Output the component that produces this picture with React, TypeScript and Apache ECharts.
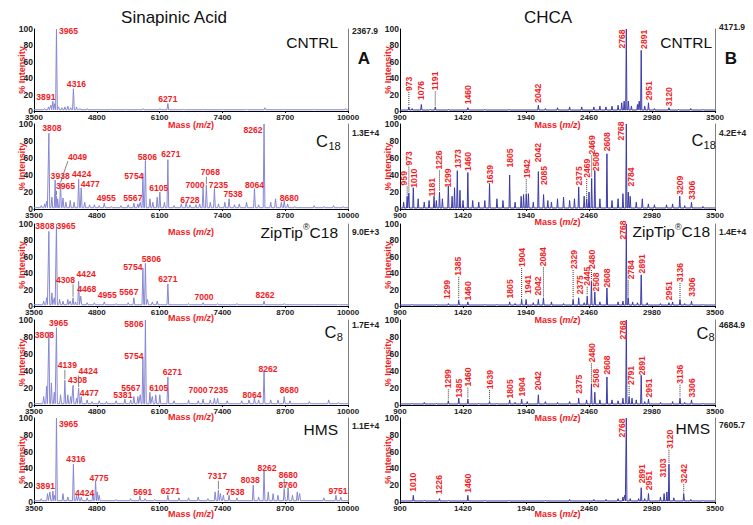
import React, { useEffect, useRef } from 'react';
import * as echarts from 'echarts';

type Peak = [string, number, number]; // label text, m/z, % intensity
type Lay = [number, number, number]; // label dx, dy (px from peak top), leader flag
type Pt = [number, number];

const saTicks = [3500, 4800, 6100, 7400, 8700, 10000];
const chcaTicks = [900, 1420, 1940, 2460, 2980, 3500];
const saScales = ['2367.9', '1.3E+4', '9.0E+3', '1.7E+4', '1.1E+4'];
const chcaScales = ['4171.9', '4.2E+4', '1.4E+4', '4684.9', '7605.7'];

// ---------- Sinapinic acid ----------
const saCntrlPeaks: Peak[] = [['3891', 3891, 12], ['3965', 3965, 100], ['4316', 4316, 27], ['6271', 6271, 9]];
const saCntrlMinor: Pt[] = [[3720, 3], [3800, 5], [3850, 7], [3930, 9], [4010, 5], [4080, 4], [4140, 5], [4200, 6], [4260, 4], [4380, 5], [4450, 3], [4600, 3], [4800, 2], [5100, 2], [5400, 2], [5760, 3], [6105, 3], [6600, 2], [7000, 2], [7400, 2], [7900, 2], [8280, 4], [8680, 2], [9300, 2], [9950, 3]];

const saC18Peaks: Peak[] = [['3808', 3808, 89], ['3938', 3938, 34], ['3965', 3965, 15], ['4049', 4049, 30], ['4424', 4424, 35], ['4477', 4477, 25], ['4955', 4955, 7], ['5567', 5567, 7], ['5754', 5754, 42], ['5806', 5806, 57], ['6105', 6105, 20], ['6271', 6271, 58], ['6728', 6728, 5], ['7000', 7000, 25], ['7068', 7068, 28], ['7235', 7235, 24], ['7538', 7538, 12], ['8064', 8064, 24], ['8262', 8262, 100], ['8680', 8680, 10]];
const saC18Minor: Pt[] = [[3650, 4], [3720, 6], [3760, 9], [3870, 14], [3990, 12], [4100, 13], [4160, 8], [4250, 10], [4330, 8], [4550, 8], [4650, 5], [4750, 5], [4850, 4], [5100, 3], [5300, 4], [5450, 5], [5650, 6], [5700, 8], [5900, 12], [5960, 8], [6050, 14], [6200, 8], [6400, 4], [6550, 6], [6650, 8], [6850, 5], [6930, 6], [7150, 8], [7320, 6], [7450, 8], [7650, 5], [7750, 6], [7900, 8], [8150, 5], [8400, 8], [8500, 12], [8620, 8], [8750, 6], [8900, 3], [9300, 4], [9500, 3], [9700, 4], [9900, 3]];

const saZipPeaks: Peak[] = [['3808', 3808, 91], ['3965', 3965, 100], ['4308', 4308, 10], ['4424', 4424, 30], ['4468', 4468, 12], ['4955', 4955, 5], ['5567', 5567, 10], ['5754', 5754, 46], ['5806', 5806, 52], ['6271', 6271, 27], ['7000', 7000, 4], ['8262', 8262, 6]];
const saZipMinor: Pt[] = [[3700, 6], [3760, 10], [3870, 16], [3920, 10], [4030, 8], [4100, 6], [4200, 8], [4250, 6], [4360, 5], [4600, 4], [4750, 4], [5200, 3], [5450, 4], [5850, 8], [5950, 5], [6050, 6], [6700, 3], [7300, 3], [7700, 3], [8680, 3], [9300, 2], [9800, 2]];

const saC8Peaks: Peak[] = [['3808', 3808, 86], ['3965', 3965, 91], ['4139', 4139, 29], ['4308', 4308, 23], ['4424', 4424, 20], ['4477', 4477, 10], ['5381', 5381, 7], ['5567', 5567, 10], ['5754', 5754, 55], ['5806', 5806, 100], ['6105', 6105, 12], ['6271', 6271, 33], ['7000', 7000, 7], ['7235', 7235, 8], ['8064', 8064, 8], ['8262', 8262, 40], ['8680', 8680, 10]];
const saC8Minor: Pt[] = [[3700, 10], [3760, 22], [3860, 26], [3920, 15], [4050, 12], [4200, 12], [4260, 10], [4380, 8], [4600, 6], [4700, 4], [4850, 5], [5000, 4], [5200, 5], [5500, 6], [5650, 10], [5700, 12], [5900, 15], [5950, 10], [6020, 12], [6400, 5], [6700, 6], [6900, 5], [7150, 6], [7300, 8], [7500, 5], [7800, 5], [7950, 6], [8150, 6], [8400, 6], [8550, 6], [8800, 5], [9200, 4], [9600, 6], [9800, 3]];

const saHmsPeaks: Peak[] = [['3891', 3891, 13], ['3965', 3965, 100], ['4316', 4316, 45], ['4424', 4424, 7], ['4775', 4775, 25], ['5691', 5691, 7], ['6271', 6271, 8], ['7317', 7317, 14], ['7538', 7538, 8], ['8038', 8038, 20], ['8262', 8262, 37], ['8680', 8680, 16], ['8760', 8760, 17], ['9751', 9751, 8]];
const saHmsMinor: Pt[] = [[3650, 4], [3780, 10], [3830, 12], [3930, 8], [4100, 10], [4200, 6], [4380, 8], [4480, 6], [4600, 5], [4720, 10], [4810, 12], [4850, 8], [5200, 3], [5500, 4], [5800, 4], [6000, 3], [6500, 5], [6700, 5], [6900, 6], [7100, 4], [7250, 12], [7360, 10], [7420, 8], [7700, 5], [8150, 6], [8350, 12], [8450, 10], [8550, 8], [8850, 8], [8950, 12], [9000, 10], [9500, 5], [9850, 6]];

// ---------- CHCA ----------
const chCntrlPeaks: Peak[] = [['973', 973, 5], ['1076', 1076, 8], ['1191', 1191, 5], ['1460', 1460, 4], ['2042', 2042, 7], ['2768', 2768, 100], ['2891', 2891, 74], ['2951', 2951, 10], ['3120', 3120, 4]];
const chCntrlMinor: Pt[] = [[1000, 3], [1150, 2], [1300, 2], [1600, 2], [1800, 2], [2100, 3], [2200, 4], [2300, 5], [2400, 5], [2500, 5], [2550, 6], [2600, 5], [2650, 6], [2700, 7], [2730, 10], [2750, 12], [2785, 12], [2810, 6], [2860, 8], [2875, 12], [2920, 6], [3000, 3], [3200, 2], [3300, 3], [3400, 2]];

const chC18Peaks: Peak[] = [['959', 959, 15], ['973', 973, 19], ['1010', 1010, 25], ['1181', 1181, 15], ['1226', 1226, 20], ['1299', 1299, 27], ['1373', 1373, 45], ['1460', 1460, 43], ['1639', 1639, 30], ['1805', 1805, 40], ['1942', 1942, 18], ['2042', 2042, 44], ['2085', 2085, 17], ['2375', 2375, 26], ['2469', 2441, 12], ['2469', 2482, 36], ['2508', 2508, 45], ['2608', 2608, 65], ['2768', 2768, 100], ['2784', 2784, 20], ['3209', 3209, 15], ['3306', 3306, 8]];
const chC18Minor: Pt[] = [[930, 8], [1050, 12], [1100, 8], [1140, 10], [1200, 10], [1250, 12], [1330, 15], [1350, 25], [1395, 22], [1420, 10], [1500, 10], [1550, 8], [1600, 10], [1700, 12], [1750, 10], [1850, 8], [1900, 15], [1920, 17], [1960, 18], [2000, 8], [2120, 10], [2150, 8], [2200, 12], [2250, 14], [2300, 10], [2340, 12], [2420, 15], [2460, 20], [2550, 12], [2650, 10], [2700, 12], [2740, 18], [2800, 15], [2850, 8], [2900, 12], [2950, 6], [3000, 5], [3100, 5], [3150, 6], [3250, 4], [3400, 3]];

const chZipPeaks: Peak[] = [['1299', 1299, 3], ['1385', 1385, 7], ['1460', 1460, 5], ['1805', 1805, 5], ['1904', 1904, 8], ['1941', 1941, 8], ['2042', 2042, 8], ['2084', 2084, 10], ['2329', 2329, 8], ['2375', 2375, 10], ['2445', 2445, 12], ['2480', 2480, 30], ['2508', 2508, 17], ['2608', 2608, 22], ['2768', 2768, 100], ['2784', 2784, 10], ['2891', 2891, 38], ['2951', 3120, 4], ['3136', 3211, 8], ['3306', 3306, 6]];
const chZipMinor: Pt[] = [[1000, 2], [1200, 2], [1600, 2], [1700, 2], [1850, 3], [2000, 4], [2150, 5], [2250, 3], [2420, 4], [2550, 5], [2700, 5], [2740, 6], [2820, 5], [2860, 4], [2940, 4], [3050, 3], [3150, 5], [3250, 3], [3400, 2]];

const chC8Peaks: Peak[] = [['1299', 1299, 5], ['1385', 1385, 8], ['1460', 1460, 7], ['1639', 1639, 4], ['1805', 1805, 6], ['1904', 1904, 7], ['2042', 2042, 12], ['2375', 2375, 8], ['2480', 2480, 25], ['2508', 2508, 15], ['2608', 2608, 33], ['2768', 2768, 100], ['2791', 2791, 10], ['2891', 2891, 35], ['2951', 2951, 7], ['3136', 3211, 8], ['3306', 3306, 6]];
const chC8Minor: Pt[] = [[1000, 2], [1100, 3], [1200, 2], [1550, 2], [1700, 2], [1850, 3], [1950, 4], [2100, 4], [2200, 3], [2300, 4], [2440, 6], [2550, 6], [2650, 6], [2700, 5], [2740, 8], [2815, 8], [2850, 6], [2920, 4], [3050, 3], [3150, 4], [3250, 3], [3400, 2]];

const chHmsPeaks: Peak[] = [['1010', 1010, 8], ['1226', 1226, 4], ['1460', 1460, 8], ['2768', 2768, 100], ['2891', 2891, 17], ['2951', 2951, 10], ['3103', 3103, 12], ['3120', 3120, 45], ['3242', 3242, 10]];
const chHmsMinor: Pt[] = [[1100, 2], [1300, 2], [1600, 2], [1800, 2], [2100, 2], [2300, 3], [2500, 3], [2600, 3], [2700, 4], [2740, 6], [2755, 8], [2800, 4], [2870, 4], [2920, 4], [3050, 6], [3080, 10], [3160, 5], [3300, 3], [3400, 2]];

// ---------- label layout (pixel offsets, not data) ----------
const saCntrlLay: Lay[] = [[-7, -4, 0], [12, 2, 0], [3, -5, 0], [0, -5, 0]];
const saC18Lay: Lay[] = [[3, -5, 0], [5, -4, 0], [9, -10, 1], [17, -27, 1], [3, -5, 0], [9, -4, 0], [2, -5, 0], [-1, -5, 0], [-9, 3, 0], [2, -4, 0], [-1, -4, 0], [3, -6, 0], [0, -5, 0], [-8, -3, 0], [4, -13, 1], [4, -4, 0], [4, -5, 0], [0, -4, 0], [-11, 6, 0], [5, -3, 0]];
const saZipLay: Lay[] = [[-4, -5, 0], [9.5, 1.5, 0], [-7.5, -18, 1], [7.5, -7, 0], [6, -7, 0], [3, -7, 0], [-5, -6, 0], [-10, -1.5, 0], [6, -4, 0], [0, -4.5, 0], [1, -6, 0], [1, -6, 0]];
const saC8Lay: Lay[] = [[-4.5, 3.5, 0], [2, -5, 0], [2.5, -15, 1], [4.5, -5, 0], [9.5, -17, 1], [8, -4, 0], [-2, -4, 0], [-3, -9, 0], [-9, -2, 0], [-11.5, 3.5, 0], [-1, -7, 0], [4.5, -4.5, 0], [-5, -9, 0], [4, -8, 0], [-2.5, -3, 0], [4, -2.5, 0], [5, -6.5, 0]];
const saHmsLay: Lay[] = [[-7.5, -5, 0], [12, 5.5, 0], [2.5, -5.5, 0], [6, -3.5, 0], [3.5, -3.5, 0], [3, -4.5, 0], [2.5, -4.5, 0], [-1, -14, 1], [6, -3, 0], [-3, -5, 0], [3, -2.5, 0], [4, -14, 1], [0, -3, 0], [2, -4, 0]];
const chCntrlLay: Lay[] = [[0, -23, 1], [0, -14, 0], [0, -26, 1], [0, -13, 0], [0, -12, 0], [-4, 10, 0], [3, -11, 0], [0.5, -12, 0], [0, -11, 0]];
const chC18Lay: Lay[] = [[-3, -18, 1], [0.5, -34.5, 1], [1, -9.5, 0], [-2, -9, 0], [0, -32, 1], [0, -8, 0], [1, -12, 0], [0.5, -11, 0], [0, -9, 0], [0.5, -17, 0], [0.5, -25, 1], [0, -19, 0], [0.5, -19, 0], [0.5, -11, 0], [0, -30.5, 1], [0, -33.5, 1], [1, -9, 0], [0, -12, 0], [-5.5, 7, 0], [2.5, -15, 0], [0.3, -11, 0], [0.8, -12, 0]];
const chZipLay: Lay[] = [[-1.5, -14, 0], [-0.5, -34, 1], [0, -11, 0], [0.4, -13, 0], [0, -42, 1], [1.5, -15, 0], [0, -13.5, 0], [0, -41, 1], [0.5, -40, 1], [1.3, -13, 0], [0, -20, 1], [1, -22, 1], [1.5, -10, 0], [0, -10, 0], [-3.5, 6, 0], [2.5, -28, 1], [0.5, -11, 0], [0, -12, 0], [0, -27, 1], [0.8, -14, 0]];
const chC8Lay: Lay[] = [[0, -22, 1], [0, -10, 0], [0.5, -22, 1], [0.5, -22, 1], [0.4, -11, 0], [0, -12, 0], [0, -14, 0], [0.3, -14, 0], [1, -31, 1], [1.4, -14, 0], [0, -12, 0], [-3, 10, 0], [2, -21, 1], [0.5, -9.5, 0], [0.5, -11, 0], [0, -24, 1], [0.8, -12, 0]];
const chHmsLay: Lay[] = [[0, -13, 0], [0, -14, 0], [0.5, -12, 0], [-4, 10, 0], [0.5, -14, 0], [0.5, -13, 0], [-4, -24, 0], [1, -25, 1], [0.2, -20, 1]];

const panels = [
  { col: 0, row: 0, peaks: saCntrlPeaks, minor: saCntrlMinor, lay: saCntrlLay },
  { col: 0, row: 1, peaks: saC18Peaks, minor: saC18Minor, lay: saC18Lay },
  { col: 0, row: 2, peaks: saZipPeaks, minor: saZipMinor, lay: saZipLay },
  { col: 0, row: 3, peaks: saC8Peaks, minor: saC8Minor, lay: saC8Lay },
  { col: 0, row: 4, peaks: saHmsPeaks, minor: saHmsMinor, lay: saHmsLay },
  { col: 1, row: 0, peaks: chCntrlPeaks, minor: chCntrlMinor, lay: chCntrlLay },
  { col: 1, row: 1, peaks: chC18Peaks, minor: chC18Minor, lay: chC18Lay },
  { col: 1, row: 2, peaks: chZipPeaks, minor: chZipMinor, lay: chZipLay },
  { col: 1, row: 3, peaks: chC8Peaks, minor: chC8Minor, lay: chC8Lay },
  { col: 1, row: 4, peaks: chHmsPeaks, minor: chHmsMinor, lay: chHmsLay },
];

const RED = '#f21b1f';
const FONT = '"Liberation Sans", Arial, Helvetica, sans-serif';
const rowTop = [29, 124, 224, 320, 418];
const rowH = [82, 85, 82, 85, 84];
const colLeft = [34, 400];
const colW = [314, 315];
const nameGaps = [[9, 18, 7, 7, 7], [9, 8, 9, 8, 7]];
const lineColor = ['#8787d4', '#3a3aa8'];
const peakHalfWidth = [18, 5];
const baseLevel = [1.5, 1.2];
const LABEL_SIZE = 8.6;

function buildSpectrum(peaks: Pt[], w: number, base: number, min: number, max: number): Pt[] {
  const s = [...peaks].sort((a, b) => a[0] - b[0]);
  const out: Pt[] = [[min, base]];
  s.forEach((p, i) => {
    const prev = s[i - 1];
    const next = s[i + 1];
    const lw = prev ? Math.min(w, (p[0] - prev[0]) / 2) : w;
    const rw = next ? Math.min(w, (next[0] - p[0]) / 2) : w;
    const last = out[out.length - 1];
    if (p[0] - lw > last[0]) out.push([p[0] - lw, base]);
    out.push([p[0], p[1]]);
    out.push([p[0] + rw, base]);
  });
  out.push([max, base]);
  return out;
}

function txt(x: number, y: number, text: string, size: number, align: string, extra: any = {}) {
  return {
    type: 'text',
    x,
    y,
    z: 20,
    silent: true,
    style: {
      text,
      fill: '#111',
      fontSize: size,
      fontFamily: FONT,
      align,
      verticalAlign: 'middle',
      textAlign: align,
      textVerticalAlign: 'middle',
      ...extra,
    },
  };
}

function buildOption() {
  const grid: any[] = [];
  const xAxis: any[] = [];
  const yAxis: any[] = [];
  const series: any[] = [];
  panels.forEach((p, i) => {
    const ticks = p.col === 0 ? saTicks : chcaTicks;
    const min = ticks[0];
    const max = ticks[ticks.length - 1];
    grid.push({
      left: colLeft[p.col],
      top: rowTop[p.row],
      width: colW[p.col],
      height: rowH[p.row],
      containLabel: false,
      outerBoundsMode: 'none',
    });
    xAxis.push({
      gridIndex: i,
      type: 'value',
      min,
      max,
      axisLine: { show: true, onZero: false, lineStyle: { color: '#000', width: 1 } },
      axisTick: { show: true, length: 2, customValues: ticks, lineStyle: { color: '#000' } },
      axisLabel: {
        customValues: ticks,
        formatter: (v: number) => String(v),
        fontSize: 8,
        fontWeight: 'bold',
        color: '#222',
        margin: 2.5,
        fontFamily: FONT,
      },
      splitLine: { show: false },
      name: 'Mass ({i|m/z})',
      nameLocation: 'middle',
      nameGap: nameGaps[p.col][p.row],
      nameMoveOverlap: false,
      nameTextStyle: {
        color: RED,
        fontSize: 9,
        fontWeight: 'bold',
        fontFamily: FONT,
        rich: { i: { color: RED, fontSize: 9, fontWeight: 'bold', fontStyle: 'italic', fontFamily: FONT } },
      },
    });
    yAxis.push({
      gridIndex: i,
      type: 'value',
      min: 0,
      max: 100,
      interval: 20,
      position: 'left',
      axisLine: { show: true, lineStyle: { color: '#000', width: 1 } },
      axisTick: { show: false },
      axisLabel: { fontSize: 8.5, fontWeight: 'bold', color: '#222', margin: 1, fontFamily: FONT },
      splitLine: { show: false },
      name: '% Intensity',
      nameLocation: 'middle',
      nameGap: 8,
      nameMoveOverlap: false,
      nameTextStyle: { color: RED, fontSize: 9, fontWeight: 'bold', fontFamily: FONT },
    });
    yAxis.push({
      gridIndex: i,
      type: 'value',
      min: 0,
      max: 100,
      position: 'right',
      axisLine: { show: true, lineStyle: { color: '#808080', width: 1 } },
      axisTick: { show: false },
      axisLabel: { show: false },
      splitLine: { show: false },
    });
    const allPeaks: Pt[] = [...p.peaks.map((k) => [k[1], k[2]] as Pt), ...p.minor];
    series.push({
      type: 'line',
      xAxisIndex: i,
      yAxisIndex: 2 * i,
      data: buildSpectrum(allPeaks, peakHalfWidth[p.col], baseLevel[p.col], min, max),
      showSymbol: false,
      symbol: 'none',
      lineStyle: { color: lineColor[p.col], width: 1 },
      silent: true,
      clip: true,
      z: 2,
    });
    const rot = p.col === 1;
    const peaks = p.peaks;
    const lay = p.lay;
    series.push({
      type: 'custom',
      xAxisIndex: i,
      yAxisIndex: 2 * i,
      data: peaks.map((k) => [k[1], k[2]]),
      silent: true,
      clip: false,
      z: 5,
      renderItem: (params: any, api: any) => {
        const k = peaks[params.dataIndex];
        const o = lay[params.dataIndex];
        const c = api.coord([api.value(0), api.value(1)]);
        const lx = c[0] + o[0];
        const ly = c[1] + o[1];
        const len = k[0].length * 4.8;
        const halfW = rot ? 3.5 : len / 2;
        const halfH = rot ? len / 2 : 3.5;
        const children: any[] = [];
        if (o[2]) {
          const x0 = Math.min(Math.max(c[0], lx - halfW), lx + halfW);
          children.push({
            type: 'line',
            shape: { x1: x0, y1: ly + halfH + 1, x2: c[0], y2: c[1] - 1 },
            style: rot
              ? { stroke: '#333', lineWidth: 1, lineDash: [1, 1] }
              : { stroke: '#666', lineWidth: 0.8 },
          });
        }
        children.push({
          type: 'text',
          x: lx,
          y: ly,
          rotation: rot ? Math.PI / 2 : 0,
          style: {
            text: k[0],
            fill: RED,
            fontSize: LABEL_SIZE,
            fontWeight: 'bold',
            fontFamily: FONT,
            align: 'center',
            verticalAlign: 'middle',
          },
        });
        return { type: 'group', children };
      },
    });
  });

  const graphic: any[] = [
    txt(174, 17, 'Sinapinic Acid', 17, 'center'),
    txt(548, 17, 'CHCA', 17, 'center'),
    txt(364, 58, 'A', 17, 'center', { fontWeight: 'bold' }),
    txt(731, 58, 'B', 17, 'center', { fontWeight: 'bold' }),
    // left panel names
    txt(338, 42, 'CNTRL', 15.5, 'right'),
    txt(328, 141, 'C', 16.5, 'right'),
    txt(328.5, 145.5, '18', 11, 'left'),
    txt(338, 232, 'C18', 15.5, 'right'),
    txt(309.6, 227, '®', 9, 'right'),
    txt(303, 232, 'ZipTip', 15.5, 'right'),
    txt(336.5, 332, 'C', 16.5, 'right'),
    txt(336.8, 337, '8', 11, 'left'),
    txt(338, 429, 'HMS', 15.5, 'right'),
    // right panel names
    txt(712, 42, 'CNTRL', 15.5, 'right'),
    txt(703.3, 140, 'C', 16.5, 'right'),
    txt(703.6, 145, '18', 11, 'left'),
    txt(710, 231.5, 'C18', 15.5, 'right'),
    txt(681.6, 226.5, '®', 9, 'right'),
    txt(675, 231.5, 'ZipTip', 15.5, 'right'),
    txt(708.3, 332.5, 'C', 16.5, 'right'),
    txt(708.6, 337, '8', 11, 'left'),
    txt(710, 428, 'HMS', 15.5, 'right'),
  ];
  const scaleY = [31, 133, 232, 325, 426];
  const scaleYR = [27, 133, 232, 325, 425];
  saScales.forEach((s, r) => graphic.push(txt(352, scaleY[r], s, 8.5, 'left', { fontWeight: 'bold', fill: '#222' })));
  chcaScales.forEach((s, r) => graphic.push(txt(719, scaleYR[r], s, 8.5, 'left', { fontWeight: 'bold', fill: '#222' })));

  return {
    animation: false,
    backgroundColor: '#ffffff',
    textStyle: { fontFamily: FONT },
    grid,
    xAxis,
    yAxis,
    series,
    graphic,
  };
}

export default function App() {
  const ref = useRef<HTMLDivElement>(null);
  useEffect(() => {
    if (!ref.current) return;
    const chart = echarts.init(ref.current, null, { renderer: 'svg' });
    chart.setOption(buildOption() as any);
    return () => chart.dispose();
  }, []);
  return (
    <div
      ref={ref}
      style={{ position: 'absolute', left: 0, top: 0, width: 753, height: 525, background: '#fff' }}
    />
  );
}
